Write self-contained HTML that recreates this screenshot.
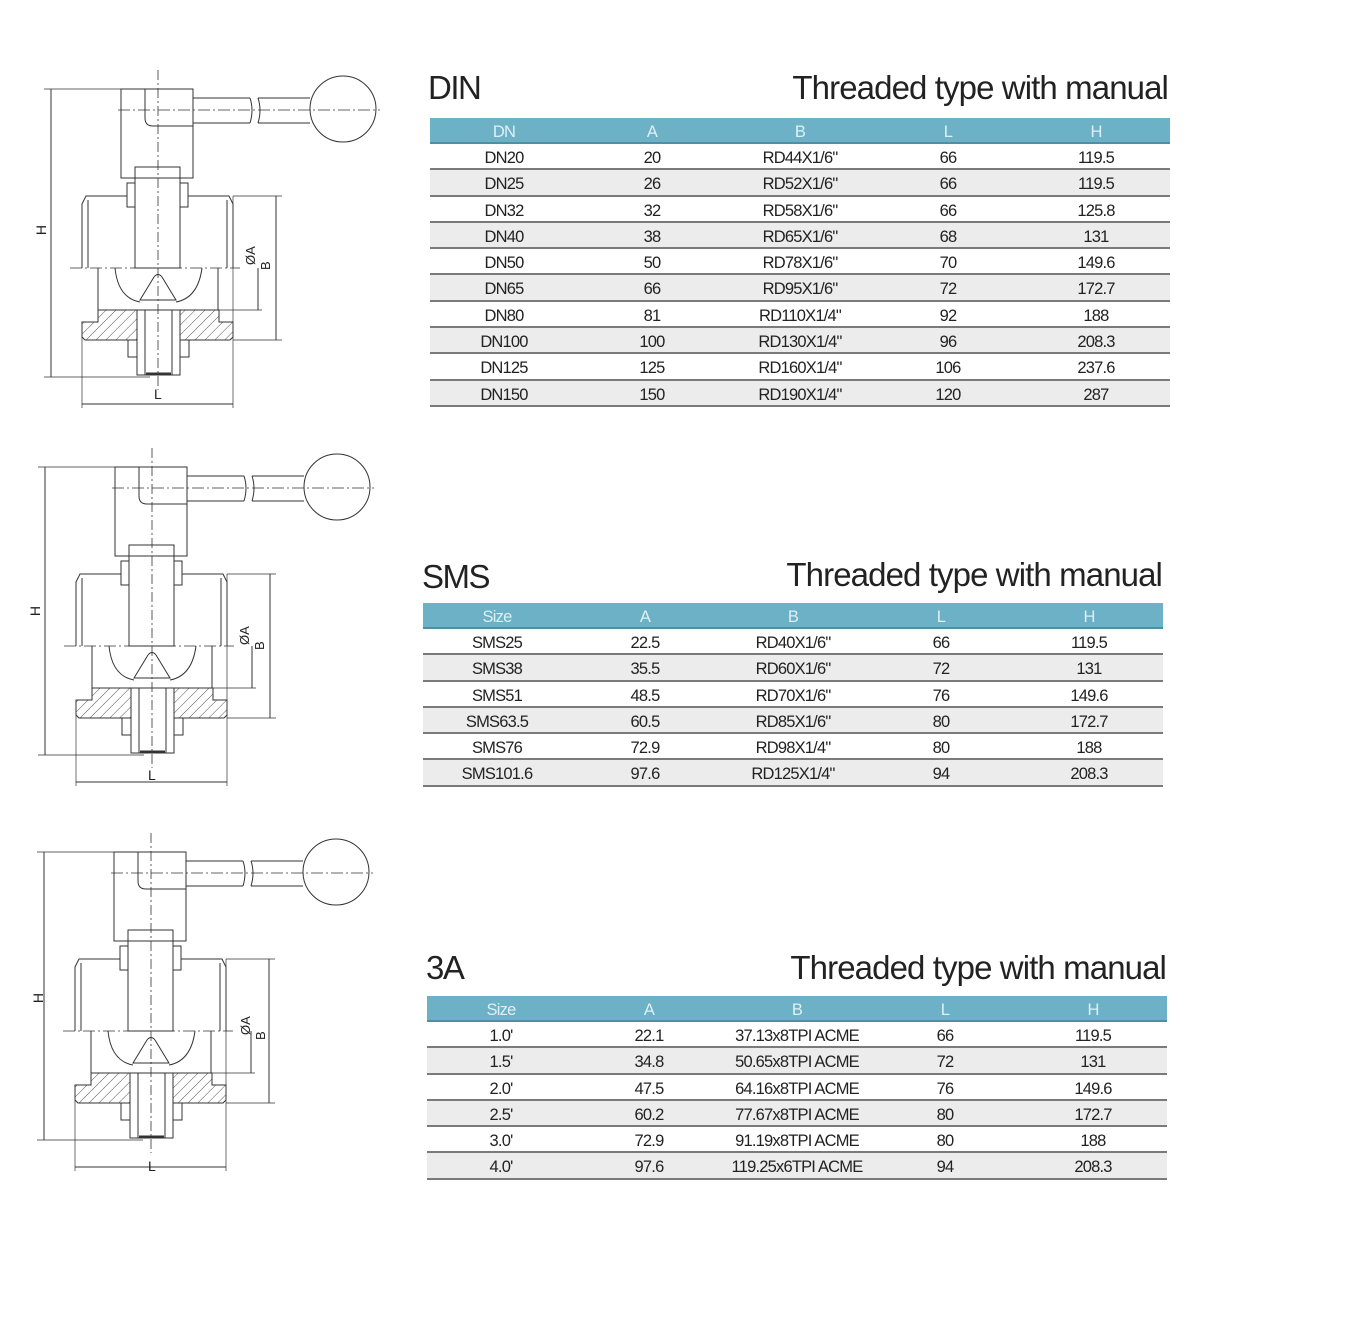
<!DOCTYPE html>
<html><head><meta charset="utf-8">
<style>
*{margin:0;padding:0;box-sizing:border-box}
body{width:1366px;height:1321px;background:#fff;position:relative;overflow:hidden;font-family:"Liberation Sans",sans-serif;color:#222}
.t1{position:absolute;font-size:33px;letter-spacing:-1.5px;color:#222;line-height:1}
.t2{position:absolute;font-size:33px;letter-spacing:-0.9px;color:#222;line-height:1;text-align:right;white-space:nowrap}
.tbl{position:absolute;width:740px}
.hd{height:26px;background:#6cb1c6;display:flex;border-bottom:2px solid #4f8ea3}
.hd span{color:#dff0f5}
.r{height:26.3px;display:flex;border-bottom:2px solid #7a7a7a}
.r.g{background:#ececec}
.hd span,.r span{flex:1;text-align:center;font-size:16.5px;letter-spacing:-0.8px;line-height:25px;padding-top:2px}
svg{position:absolute;left:0;top:0}
</style></head><body>

<svg width="420" height="1321" viewBox="0 0 420 1321">
<defs>
<pattern id="h" patternUnits="userSpaceOnUse" width="7" height="7" patternTransform="rotate(45)">
<line x1="0" y1="0" x2="0" y2="7" stroke="#555" stroke-width="1"/></pattern>
<g id="v" fill="none" stroke="#333" stroke-width="1">
<line x1="44" y1="89" x2="170" y2="89" stroke-width="0.7"/>
<line x1="44" y1="377" x2="150" y2="377" stroke-width="0.7"/>
<line x1="51" y1="89" x2="51" y2="377"/>
<line x1="82" y1="330" x2="82" y2="408" stroke-width="0.7"/>
<line x1="233" y1="196" x2="233" y2="408" stroke-width="0.7"/>
<line x1="82" y1="404" x2="233" y2="404"/>
<line x1="233" y1="196" x2="282" y2="196" stroke-width="0.7"/>
<line x1="233" y1="340" x2="282" y2="340" stroke-width="0.7"/>
<line x1="200" y1="310" x2="262" y2="310" stroke-width="0.7"/>
<line x1="276" y1="196" x2="276" y2="340"/>
<line x1="258" y1="268" x2="258" y2="310"/>
<rect x="121" y="89" width="72" height="89"/>
<path d="M145 89 V118 Q145 126 153 126 H193"/>
<path d="M193 98 H250 M193 123 H250 M258 98 H310 M258 123 H310"/>
<path d="M250 98 Q254 110 250 123 M258 98 Q262 110 258 123"/>
<circle cx="343" cy="109" r="33"/>
<line x1="118" y1="110" x2="380" y2="110" stroke-dasharray="12 3 2 3" stroke-width="0.7"/>
<rect x="135" y="167" width="45" height="101"/>
<rect x="127" y="183" width="8" height="24"/><rect x="180" y="183" width="8" height="24"/>
<path d="M82 268 V204 L86 196 H127 M188 196 H229 L233 204 V268"/>
<path d="M88 268 V200 M227 268 V200"/>
<line x1="70" y1="268" x2="240" y2="268" stroke-dasharray="12 3 2 3" stroke-width="0.8"/>
<line x1="98" y1="268" x2="98" y2="310"/><line x1="218" y1="268" x2="218" y2="310"/>
<path d="M115 268 Q118 298 140 302 M202 268 Q198 298 176 302"/>
<path d="M140 300 L154 277 Q158 272 162 277 L176 300 Z"/>
<path d="M98 310 H219 V322 H233 V337 L230 340 H85 L82 337 V322 H98 Z" fill="url(#h)"/>
<rect x="137" y="310" width="43" height="65" fill="#fff"/>
<path d="M137 310 V375 H180 V310"/><path d="M145 310 V375 M172 310 V375"/>
<rect x="128" y="340" width="9" height="17"/><rect x="180" y="340" width="9" height="17"/>
<line x1="146" y1="374" x2="171" y2="374" stroke-width="3"/>
<line x1="158" y1="70" x2="158" y2="390" stroke-dasharray="10 3 2 3" stroke-width="0.8"/>
</g>
</defs>
<use href="#v"/>
<use href="#v" transform="translate(-6,378)"/>
<use href="#v" transform="translate(-7,763)"/>
<g font-family="Liberation Sans" font-size="14" fill="#222">
<text x="154" y="399">L</text><text x="148" y="780">L</text><text x="148" y="1171">L</text>
<text transform="translate(46,230) rotate(-90)" text-anchor="middle">H</text>
<text transform="translate(40,611) rotate(-90)" text-anchor="middle">H</text>
<text transform="translate(43,998) rotate(-90)" text-anchor="middle">H</text>
<text transform="translate(255,265) rotate(-90)" font-size="13">ØA</text>
<text transform="translate(270,270) rotate(-90)" font-size="13">B</text>
<text transform="translate(249,645) rotate(-90)" font-size="13">ØA</text>
<text transform="translate(264,650) rotate(-90)" font-size="13">B</text>
<text transform="translate(250,1035) rotate(-90)" font-size="13">ØA</text>
<text transform="translate(265,1040) rotate(-90)" font-size="13">B</text>
</g>
</svg>

<div class="t1" style="left:428px;top:71px">DIN</div>
<div class="t2" style="right:198px;top:71px">Threaded type with manual</div>
<div class="tbl" style="left:430px;top:118px">
<div class="hd"><span>DN</span><span>A</span><span>B</span><span>L</span><span>H</span></div>
<div class="r"><span>DN20</span><span>20</span><span>RD44X1/6"</span><span>66</span><span>119.5</span></div>
<div class="r g"><span>DN25</span><span>26</span><span>RD52X1/6"</span><span>66</span><span>119.5</span></div>
<div class="r"><span>DN32</span><span>32</span><span>RD58X1/6"</span><span>66</span><span>125.8</span></div>
<div class="r g"><span>DN40</span><span>38</span><span>RD65X1/6"</span><span>68</span><span>131</span></div>
<div class="r"><span>DN50</span><span>50</span><span>RD78X1/6"</span><span>70</span><span>149.6</span></div>
<div class="r g"><span>DN65</span><span>66</span><span>RD95X1/6"</span><span>72</span><span>172.7</span></div>
<div class="r"><span>DN80</span><span>81</span><span>RD110X1/4"</span><span>92</span><span>188</span></div>
<div class="r g"><span>DN100</span><span>100</span><span>RD130X1/4"</span><span>96</span><span>208.3</span></div>
<div class="r"><span>DN125</span><span>125</span><span>RD160X1/4"</span><span>106</span><span>237.6</span></div>
<div class="r g"><span>DN150</span><span>150</span><span>RD190X1/4"</span><span>120</span><span>287</span></div>
</div>

<div class="t1" style="left:422px;top:560px">SMS</div>
<div class="t2" style="right:204px;top:558px">Threaded type with manual</div>
<div class="tbl" style="left:423px;top:603px">
<div class="hd"><span>Size</span><span>A</span><span>B</span><span>L</span><span>H</span></div>
<div class="r"><span>SMS25</span><span>22.5</span><span>RD40X1/6"</span><span>66</span><span>119.5</span></div>
<div class="r g"><span>SMS38</span><span>35.5</span><span>RD60X1/6"</span><span>72</span><span>131</span></div>
<div class="r"><span>SMS51</span><span>48.5</span><span>RD70X1/6"</span><span>76</span><span>149.6</span></div>
<div class="r g"><span>SMS63.5</span><span>60.5</span><span>RD85X1/6"</span><span>80</span><span>172.7</span></div>
<div class="r"><span>SMS76</span><span>72.9</span><span>RD98X1/4"</span><span>80</span><span>188</span></div>
<div class="r g"><span>SMS101.6</span><span>97.6</span><span>RD125X1/4"</span><span>94</span><span>208.3</span></div>
</div>

<div class="t1" style="left:426px;top:951px">3A</div>
<div class="t2" style="right:200px;top:951px">Threaded type with manual</div>
<div class="tbl" style="left:427px;top:996px">
<div class="hd"><span>Size</span><span>A</span><span>B</span><span>L</span><span>H</span></div>
<div class="r"><span>1.0'</span><span>22.1</span><span>37.13x8TPI ACME</span><span>66</span><span>119.5</span></div>
<div class="r g"><span>1.5'</span><span>34.8</span><span>50.65x8TPI ACME</span><span>72</span><span>131</span></div>
<div class="r"><span>2.0'</span><span>47.5</span><span>64.16x8TPI ACME</span><span>76</span><span>149.6</span></div>
<div class="r g"><span>2.5'</span><span>60.2</span><span>77.67x8TPI ACME</span><span>80</span><span>172.7</span></div>
<div class="r"><span>3.0'</span><span>72.9</span><span>91.19x8TPI ACME</span><span>80</span><span>188</span></div>
<div class="r g"><span>4.0'</span><span>97.6</span><span>119.25x6TPI ACME</span><span>94</span><span>208.3</span></div>
</div>
</body></html>
